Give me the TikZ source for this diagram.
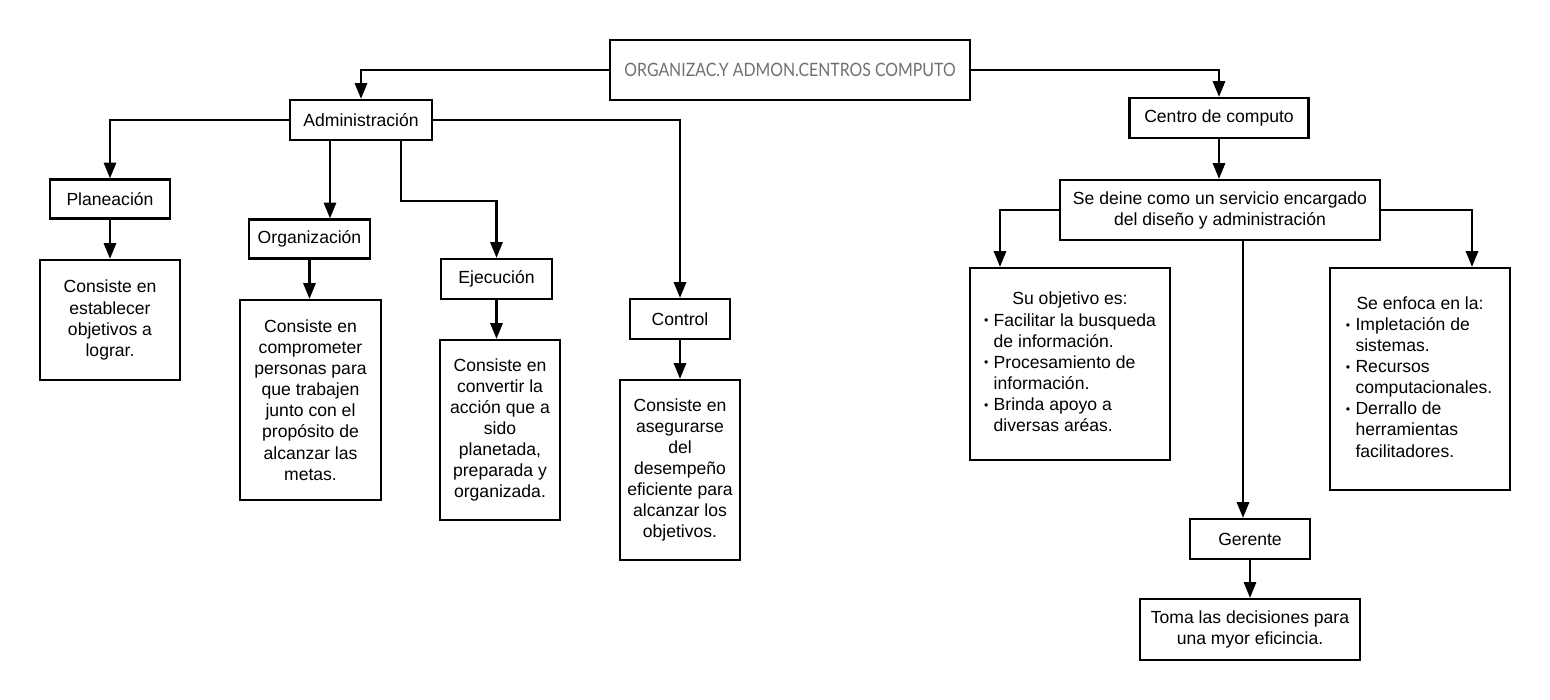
\documentclass[tikz,border=0pt]{standalone}
\usepackage{fontspec}
\setmainfont{Liberation Sans}
\newfontfamily\titlefont[FakeStretch=0.86]{Lato}
\usetikzlibrary{arrows.meta}
\definecolor{ink}{HTML}{000000}
\definecolor{titlegray}{HTML}{707070}

\tikzset{
  box/.style={draw=ink, line width=1.3pt, inner sep=2pt, align=center, font=\fontsize{10}{12}\selectfont},
  link/.style={draw=ink, line width=1.3pt, -{Triangle[width=7pt,length=9pt]}},
}
\newcommand{\itemdot}{\raisebox{0.15ex}{\scriptsize\textbullet}}

\begin{document}
\begin{tikzpicture}
    \useasboundingbox (0,0) rectangle (31,-14);
    \node[box, minimum width=7.2cm, minimum height=1.2cm, text=titlegray, font=\titlefont\fontsize{10.5}{12}\selectfont] (title) at (15.8,-1.4) {ORGANIZAC.Y ADMON.CENTROS COMPUTO};
    \node[box, minimum width=2.84cm, minimum height=0.8cm] (admin) at (7.22,-2.4) {Administración};
    \node[box, minimum width=3.58cm, minimum height=0.8cm] (centro) at (24.38,-2.36) {Centro de computo};

    \node[box, minimum width=2.4cm, minimum height=0.78cm] (plan) at (2.2,-3.98) {Planeación};
    \node[box, minimum width=2.8cm, minimum height=2.4cm] (plandesc) at (2.2,-6.4) {Consiste en\\establecer\\objetivos a\\lograr.};
    \node[box, minimum width=2.42cm, minimum height=0.78cm] (org) at (6.19,-4.78) {Organización};
    \node[box, minimum width=2.82cm, minimum height=4cm] (orgdesc) at (6.21,-8.0) {Consiste en\\comprometer\\personas para\\que trabajen\\junto con el\\propósito de\\alcanzar las\\metas.};
    \node[box, minimum width=2.22cm, minimum height=0.8cm] (ejec) at (9.93,-5.58) {Ejecución};
    \node[box, minimum width=2.4cm, minimum height=3.6cm] (ejecdesc) at (10.0,-8.6) {Consiste en\\convertir la\\acción que a\\sido\\planetada,\\preparada y\\organizada.};
    \node[box, minimum width=2.0cm, minimum height=0.8cm] (ctrl) at (13.6,-6.38) {Control};
    \node[box, minimum width=2.4cm, minimum height=3.6cm] (ctrldesc) at (13.6,-9.4) {Consiste en\\asegurarse\\del\\desempeño\\eficiente para\\alcanzar los\\objetivos.};

    \node[box, minimum width=6.4cm, minimum height=1.2cm] (sedeine) at (24.4,-4.2) {Se deine como un servicio encargado\\del diseño y administración};
    \node[box, minimum width=4.0cm, minimum height=3.84cm] (objetivo) at (21.4,-7.28) {%
      \begin{tabular}{@{}l@{\hspace{3pt}}l@{}}
        \multicolumn{2}{c}{Su objetivo es:}\\
        \itemdot & Facilitar la busqueda\\
             & de información.\\
        \itemdot & Procesamiento de\\
             & información.\\
        \itemdot & Brinda apoyo a\\
             & diversas aréas.
      \end{tabular}};
    \node[box, minimum width=3.6cm, minimum height=4.44cm] (enfoca) at (28.4,-7.58) {%
      \begin{tabular}{@{}l@{\hspace{3pt}}l@{}}
        \multicolumn{2}{c}{Se enfoca en la:}\\
        \itemdot & Impletación de\\
             & sistemas.\\
        \itemdot & Recursos\\
             & computacionales.\\
        \itemdot & Derrallo de\\
             & herramientas\\
             & facilitadores.
      \end{tabular}};
    \node[box, minimum width=2.4cm, minimum height=0.8cm] (gerente) at (25.0,-10.78) {Gerente};
    \node[box, minimum width=4.4cm, minimum height=1.22cm] (toma) at (25.0,-12.59) {Toma las decisiones para\\una myor eficincia.};

    \draw[link] (title.west) -| (admin.north);
    \draw[link] (title.east) -| (centro.north);
    \draw[link] (admin.west) -| (plan.north);
    \draw[link] ([xshift=-0.62cm]admin.south) -- ([xshift=0.41cm]org.north);
    \draw[link] ([xshift=0.8cm]admin.south) -- ++(0,-1.2) -| (ejec.north);
    \draw[link] (admin.east) -| (ctrl.north);
    \draw[link] (plan.south) -- (plandesc.north);
    \draw[link] (org.south) -- (org.south |- orgdesc.north);
    \draw[link] (ejec.south) -- (ejec.south |- ejecdesc.north);
    \draw[link] (ctrl.south) -- (ctrldesc.north);
    \draw[link] (centro.south) -- (centro.south |- sedeine.north);
    \draw[link] (sedeine.west) -| ([xshift=-1.4cm]objetivo.north);
    \draw[link] (sedeine.east) -| ([xshift=1.04cm]enfoca.north);
    \draw[link] ([xshift=0.46cm]sedeine.south) -- ([xshift=-0.14cm]gerente.north);
    \draw[link] (gerente.south) -- (toma.north);
\end{tikzpicture}
\end{document}
